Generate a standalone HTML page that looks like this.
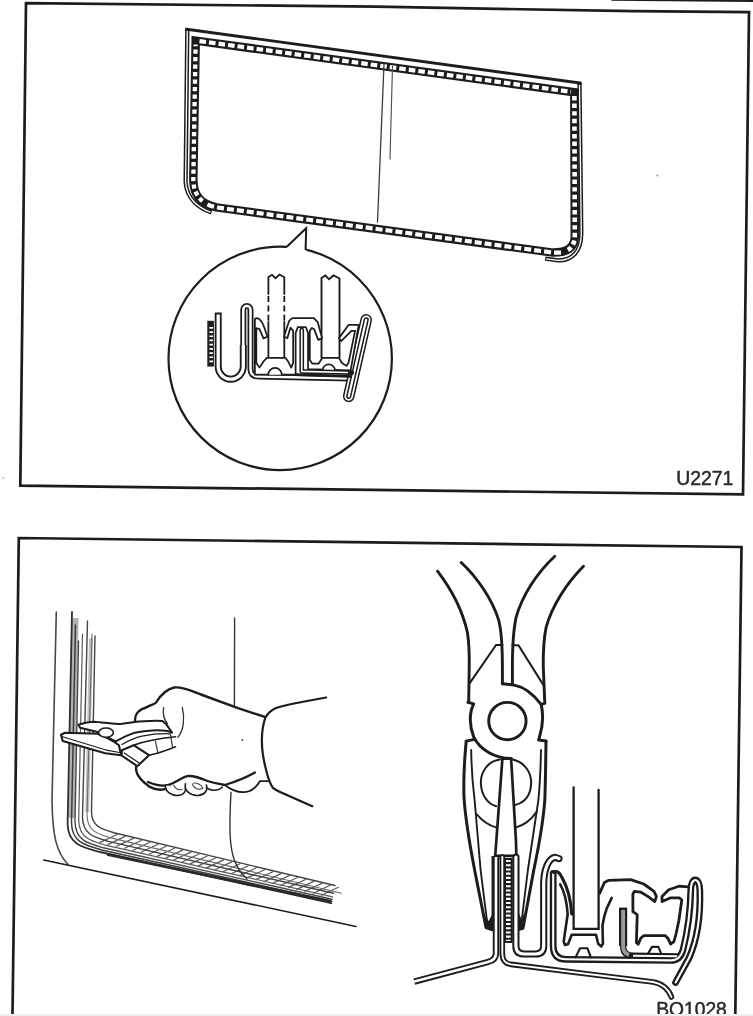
<!DOCTYPE html>
<html lang="en">
<head>
<meta charset="utf-8">
<title>U2271 / BO1028</title>
<style>
html,body{margin:0;padding:0;background:#fff;}
body{width:753px;height:1016px;overflow:hidden;position:relative;font-family:"Liberation Sans",sans-serif;}
svg{position:absolute;left:0;top:0;display:block;}
.k{stroke-linecap:round;stroke-linejoin:round;}
.w{stroke:#fff;fill:none;stroke-linecap:round;stroke-linejoin:round;}
.lbl{font-family:"Liberation Sans",sans-serif;font-size:20px;fill:#2a2a2a;stroke:#2a2a2a;stroke-width:0.5px;}
</style>
</head>
<body>
<svg width="753" height="1016" viewBox="0 0 753 1016">
<defs>
<filter id="soft" x="-2%" y="-2%" width="104%" height="104%"><feGaussianBlur stdDeviation="0.55"/></filter>
</defs>
<rect x="0" y="0" width="753" height="1016" fill="#fff"/>
<g filter="url(#soft)" fill="none" stroke="#1c1c1c">
<!-- ===== stray line at very top ===== -->
<path class="k" stroke-width="2" d="M612,-0.3 L753,0.9"/>

<circle cx="657.4" cy="175.5" r="0.9" fill="#8a8a8a" stroke="none"/>
<circle cx="3.2" cy="478" r="1.3" fill="#cfcfcf" stroke="none"/>
<!-- ===== PANEL 1 border ===== -->
<path class="k" stroke-width="2.7" style="stroke-linejoin:miter" d="M26,3.2 L376,6.7 L633,11.2 L749,12.2 L743,494.3 L20.3,485.7 Z"/>

<!-- ===== PANEL 2 border ===== -->
<path class="k" stroke-width="2.7" style="stroke-linejoin:miter;stroke-linecap:butt" d="M12.5,1014 L18.8,538 L741.5,547 L735.3,1014"/>

<!-- ===== window frame (panel 1) ===== -->
<g id="window">
<path class="k" stroke-width="4.3" style="stroke-linecap:butt;stroke-linejoin:miter" d="M211.5,212.4 C198,208 186.5,198 185.6,182 L187.3,29.6 M579.5,83.4 L581.3,232 C581.6,252 572,260.6 558,260.4 L545.2,258.7"/>
<path class="w" stroke-width="1.3" style="stroke-linecap:butt;stroke-linejoin:miter" d="M210.5,212.1 C198,208 186.5,198 185.6,182 L187.3,31 M579.5,85 L581.3,232 C581.6,252 572,260.6 558,260.4 L546.2,258.8"/>
<path class="k" stroke-width="2.9" style="stroke-linecap:square" d="M186.6,29.2 L580.2,83"/>
<path class="k" stroke-width="8.5" style="stroke-linejoin:miter" d="M195.7,40.6 L574.3,92.3 L574.8,236 C574.8,247 568,252.6 553,252.6 L216.4,207.4 C200,203.6 193.5,195 193.3,180 Z"/>
<path class="w" stroke-width="4.2" stroke-dasharray="6.6 3" style="stroke-linecap:butt" d="M199.5,41.1 L571,91.8"/>
<path class="w" stroke-width="4.6" stroke-dasharray="4.4 3.2" style="stroke-linecap:butt" d="M574.4,96 L574.8,236 C574.8,244 571,249 566,251"/>
<path class="w" stroke-width="4.2" stroke-dasharray="7 3" style="stroke-linecap:butt" d="M561,252.6 L553,252.6 L216.4,207.4 C212,206.4 208,205 205,203"/>
<path class="w" stroke-width="4.3" stroke-dasharray="4.2 3.3" style="stroke-linecap:butt" d="M202.5,201 C196.5,196 193.4,189 193.3,180 L195.6,44.5"/>
<path class="k" stroke-width="1.3" stroke="#3c3c3c" d="M384,64 L377.5,222"/>
<path class="k" stroke-width="1.1" stroke="#4a4a4a" d="M392.5,66 L390,159"/>
</g>

<!-- ===== callout circle ===== -->
<g id="callout">
<circle class="k" stroke-width="2.2" cx="280.2" cy="358.4" r="111.7" fill="#fff"/>
<path d="M285,252 L287.5,246 L306.2,228.2 L305.6,249 L308,254 Z" fill="#fff" stroke="none"/>
<path class="k" stroke-width="2" d="M287.3,246.2 L306.2,228.2 L305.6,249.3" style="stroke-linejoin:miter"/>
</g>

<!-- ===== cross-section detail inside circle ===== -->
<g id="detail1">
<!-- hatched block at left -->
<rect x="207.3" y="320.8" width="6.6" height="45.8" fill="#1c1c1c" stroke="none"/>
<path class="w" stroke-width="3.6" stroke-dasharray="1.7 2.5" style="stroke-linecap:butt" d="M211.2,327 L211.2,363"/>
<!-- body flange strip: U, hairpin, base -->
<path class="k" stroke-width="7" style="stroke-linecap:butt" d="M218.2,312.5 L218.2,366.6 A12.55,12.55 0 0 0 243.3,366.6 L243.3,345"/>
<path class="k" stroke-width="6" d="M243.3,348 L243.3,309.6 A3.6,3.6 0 0 1 250.5,309.6 L250.5,369 Q250.5,376.6 259,376.6 L350,378.4"/>
<path class="w" stroke-width="3.3" style="stroke-linecap:butt" d="M218.2,314.4 L218.2,366.6 A12.55,12.55 0 0 0 243.3,366.6 L243.3,345"/>
<path class="w" stroke-width="2.5" d="M243.3,348 L243.3,309.6 A3.6,3.6 0 0 1 250.5,309.6 L250.5,369 Q250.5,376.6 259,376.6 L350,378.4"/>
<!-- diagonal outer strips (folded hem: four lines) -->
<path class="k" stroke-width="11.6" d="M366.2,319.8 L348.7,396.4"/>
<path class="w" stroke-width="8.6" d="M366.2,319.8 L348.7,396.4"/>
<path class="k" stroke-width="5.2" d="M366.2,319.8 L348.7,396.4"/>
<path class="w" stroke-width="2.2" d="M366.2,319.8 L348.7,396.4"/>
<path class="k" stroke-width="2.8" d="M296,374.6 L350,376.4"/>
<!-- glass 1 (dashed) -->
<path class="k" stroke-width="1.8" style="stroke-linejoin:miter" d="M268.4,294 L268.4,277 L272,274.8 L275.5,278.2 L279.5,274.5 L284.3,277.2 L284.3,294"/>
<path class="k" stroke-width="1.8" stroke-dasharray="6 3.4" style="stroke-linecap:butt" d="M268.4,296 L268.4,322 M284.3,296 L284.3,322"/>
<path class="k" stroke-width="1.8" d="M268.4,322 L268.4,357.4 M284.3,322 L284.3,357.4"/>
<!-- glass 2 -->
<path class="k" stroke-width="1.9" style="stroke-linejoin:miter" d="M321.5,357.4 L321.5,278 L325.5,275.5 L329,279.3 L333.5,275.5 L339.5,278.5 L339.5,357.4"/>
<!-- rubber channel profile (drawn in zoom-view coordinates) -->
<g transform="translate(235,301.6) scale(0.14608)">
<path class="k" stroke-width="12" fill="#fff" d="M136,490 L136,125 Q136,113 148,113 L165,118 Q190,140 200,175 L222,240 L195,252 L168,188 L146,182 L146,420 L168,452 L195,410 L218,385 L345,385 L365,412 L385,452 L398,420 L398,200 L380,178 L358,250 L336,240 L350,195 L372,130 L392,113 L540,113 L566,140 L596,250 L570,262 L542,190 L526,180 L512,200 L512,400 L530,425 L572,425 L598,385 L712,385 L732,420 L762,440 L777,420 L822,200 L797,200 L727,270 L712,250 L777,160 L847,160 L792,470 L500,462 L500,215 L485,175 L430,175 L415,215 L415,500 L136,500 Z"/>
<!-- bumps -->
<path class="k" stroke-width="11" fill="#fff" d="M228,500 A46,46 0 0 1 320,500"/>
<path class="k" stroke-width="11" fill="#fff" d="M600,470 A42,40 0 0 1 684,470"/>
<!-- L-shaped metal strip between channels -->
<path class="k" stroke-width="32" d="M457,195 L457,478 L800,486"/>
<path class="w" stroke-width="11" d="M457,195 L457,478 L770,485"/>
</g>
</g>

<!--P2LEFT_BEGIN-->
<!-- ===== panel 2, left: window corner, hand with pliers ===== -->
<g id="p2left">
<path class="k" stroke-width="1.6" stroke="#484848" d="M56.3,612 L52,800 C52.5,835 56,852 68,864.5"/>
<path class="k" stroke-width="1.5" d="M43.7,860 L356,926.5"/>
<path class="k" stroke-width="6.5" stroke="#b2b2b2" style="stroke-linecap:butt" d="M75.3,618 L71.6,818"/>
<path class="k" stroke-width="4" stroke="#c2c2c2" style="stroke-linecap:butt" d="M91,638 L87.2,812"/>
<path class="k" stroke-width="1.2" stroke="#5a5a5a" d="M100.0,842.4 L117.0,834.5 M108.2,844.4 L125.2,836.4 M116.4,846.3 L133.4,838.4 M124.6,848.3 L141.6,840.3 M132.8,850.2 L149.8,842.3 M141.0,852.2 L158.0,844.3 M149.2,854.2 L166.2,846.2 M157.4,856.1 L174.4,848.2 M165.6,858.1 L182.6,850.1 M173.8,860.0 L190.8,852.1 M182.0,862.0 L199.0,854.0 M190.2,863.9 L207.2,856.0 M198.4,865.9 L215.4,858.0 M206.6,867.9 L223.6,859.9 M214.8,869.8 L231.8,861.9 M223.0,871.8 L240.0,863.8 M231.2,873.7 L248.2,865.8 M239.4,875.7 L256.4,867.7 M247.6,877.6 L264.6,869.7 M255.8,879.6 L272.8,871.7 M264.0,881.6 L281.0,873.6 M272.2,883.5 L289.2,875.6 M280.4,885.5 L297.4,877.5 M288.6,887.4 L305.6,879.5 M296.8,889.4 L313.8,881.4 M305.0,891.3 L322.0,883.4 M313.2,893.3 L330.2,885.3 M321.4,895.2 L338.4,887.3"/>
<path class="k" stroke-width="1.8" stroke="#2e2e2e" d="M72,612 L67.6,824.0 C67.9,844.2 82.2,847.3 100.0,852.0 L331.3,903.2"/>
<path class="k" stroke-width="1.5" stroke="#3c3c3c" d="M75.5,625 L71.5,822.7 C71.8,842.3 85.1,845.4 101.7,849.9 L331.7,901.3"/>
<path class="k" stroke-width="1.4" stroke="#4a4a4a" d="M78.5,641 L75,821.4 C75.3,840.4 87.7,843.5 103.3,847.8 L332.1,899.3"/>
<path class="k" stroke-width="1.2" stroke="#5a5a5a" d="M82.5,634 L78.7,819.7 C79.0,838.0 90.7,841.0 105.4,845.2 L332.6,896.8"/>
<path class="k" stroke-width="1.4" stroke="#444" d="M87.5,621 L82.5,817.3 C82.8,834.6 94.2,837.3 108.4,841.4 L333.4,893.3"/>
<path class="k" stroke-width="1.1" stroke="#6a6a6a" d="M92,634 L87,815.1 C87.3,831.6 97.8,834.0 111.1,837.9 L341.5,893.2"/>
<path class="k" stroke-width="1.4" stroke="#444" d="M95,636 L91.5,812.0 C91.8,827.1 102.1,829.1 115.0,833.0 L335.0,885.5"/>
<path class="k" stroke-width="2.8" stroke="#2a2a2a" d="M108,854.6 L330,901.2"/>
<path class="k" stroke-width="1.4" stroke="#333" d="M234.6,618 L234.4,707"/>
<path class="k" stroke-width="1.4" stroke="#333" d="M231,792.5 C230,810 229.5,825 230.3,838 C231.5,855 235,868 247,879"/>
<path d="M 136.1,723.7 C 133.6,716.2 137.4,710 146.1,707.5 C 149.9,705 153.6,705 156.1,702.5 C 159.9,696.2 165.4,689.5 174.1,687.5 C 182.3,686.2 191.3,691 202.3,695 L 238,708.2 L 264.9,716.9 C 260.4,732.4 261.9,752.4 266.1,769.9 L 267.4,781.2 L 259.9,781.2 C 256.1,787.5 252.4,791.2 246.1,791.9 C 239.9,792.9 233.6,791.9 224.9,785 C 217.4,783.2 212.4,782 207.4,781.2 C 199.9,778 193.7,775 187.5,776.2 C 180,778 172.5,785 165,785.5 C 157.5,785.5 152.5,783.7 150,782.5 L 149.9,786.9 C 141.1,779.9 136.1,772.4 136.1,766.1 Z" fill="#fff" stroke="none"/>
<path class="k" stroke-width="2.4" d="M 135.6,723.7 C 133.6,716.2 137.4,710 146.1,707.5 C 149.9,705 153.6,705 156.1,702.5 C 159.9,696.2 165.4,689.5 174.1,687.5 C 182.3,686.2 191.3,691 202.3,695 L 238,708.2 L 264.9,716.9"/>
<path class="k" stroke-width="2.2" d="M 326.1,697.5 C 304.8,701.2 284.9,705 276.1,708 C 271.1,710.4 267.4,713.7 265.4,717.4 C 260.4,732.4 261.4,752.4 266.1,769.9 C 267.9,777.4 269.9,783.6 272.9,787.9 C 276.1,790.4 280.3,792.4 286.8,794.9 L 312.3,806.2"/>
<path class="k" stroke-width="2.4" d="M 136.1,766.9 C 135.4,772.9 140.4,780.4 149.9,786.9 C 157.4,791.1 165.4,790.3 170.3,786.4"/>
<path class="k" stroke-width="2.3" d="M 148,782 C 152.5,784 157.5,786 165,785.5 C 172.5,785 180,778 187.5,776.2 C 193.7,775 199.9,778 207.4,781 C 213.7,783 218.7,784 224.9,785 C 234.9,782 246.1,777.5 254.9,772.5"/>
<path class="k" stroke-width="1.7" d="M 224.9,785 C 233.6,791.9 239.9,792.9 246.1,791.9 C 252.4,791.2 256.1,787.5 259.9,781.2 L 267.9,781.2"/>
<path class="k" stroke-width="1.6" fill="#fff" d="M 165.5,785.5 C 165,791.2 171.2,796.2 178.7,795.4 C 183.7,794.9 186.2,791.2 185.5,787.5"/>
<path class="k" stroke-width="1.6" fill="#fff" d="M 185.5,783.7 C 183.7,790 190,796.2 198.7,795.4 C 205.4,794.4 207.9,790 206.4,785"/>
<path class="k" stroke-width="1.5" fill="#fff" d="M 206.4,787.5 C 209.9,791.2 218.7,791.2 222.4,787"/>
<path class="k" stroke-width="1.1" stroke="#444" d="M 173.7,785 C 175,788.7 178.7,790.4 182,789.5 M 192.4,783.7 C 192.9,787.5 198.7,791.2 202.9,788 C 201.2,785 197.4,783 193.7,783"/>
<path class="k" stroke-width="1.3" stroke="#333" d="M 163.6,707.5 C 162.4,714.9 164.4,719.9 167.4,723.7 M 182.3,707.5 C 184.8,717.4 184.1,729.9 177.8,737.4"/>
<circle cx="242.4" cy="740" r="1" fill="#444" stroke="none"/>
<path class="k" stroke-width="2" fill="#fff" d="M 78.4,724.7 C 83.4,723.1 89.3,721.7 94.3,721.7 C 103.5,722.1 112.7,724.7 121.9,723.7 C 133.6,721.7 148.7,720.4 162.1,720.9 L 165.8,723.7 L 172.1,732.6 C 162.1,728.4 148.7,730.1 133.6,733.1 C 127,735.1 121.1,738.5 115.6,741.5 L 96.8,731.8 L 80.1,727.8 Z"/>
<path class="k" stroke-width="1.3" d="M 121.9,744.5 C 128.6,740.5 135.3,737.6 142,736.1 C 152.1,734.1 162.1,733.4 170.8,733.8"/>
<path class="k" stroke-width="2.1" fill="#fff" d="M 61,734.8 L 65,732.8 L 97.7,733.8 C 105.2,736.8 113.6,741 118.9,745.2 L 121.1,755.2 L 105.2,753.2 L 62.7,741.1 Z"/>
<path class="k" stroke-width="1.2" d="M 61.7,736.5 L 105.2,749.8 L 119.4,752.5"/>
<ellipse class="k" stroke-width="1.6" fill="#fff" cx="106" cy="732.6" rx="7.4" ry="4.6"/>
<path class="k" stroke-width="2.1" fill="#fff" d="M 121.9,750.2 L 133.6,745.2 L 149,755.2 L 137.3,766.2 L 121.6,755.5 Z"/>
<path class="k" stroke-width="1.2" d="M 124.3,752.9 L 139.5,763.2"/>
<path class="k" stroke-width="1.6" d="M 133.6,745.2 C 142,742.1 155.4,738.8 175.5,736.8 M 149,755.2 C 155.4,753.9 165.4,751 175.5,746.8"/>
<path class="k" stroke-width="1.2" stroke="#333" d="M 155.4,741 L 158.1,753.9 M 170.5,734.8 L 172.5,747.2"/>
</g>
<!--P2LEFT_END-->
<!--P2RIGHT_BEGIN-->
<!-- ===== panel 2, right: pliers close-up and flange cross-section ===== -->
<g id="p2right">
<path class="k" stroke-width="2.9" d="M 437.5,571.2 C 449.9,587.4 462.4,609.9 467.4,632.4 C 469.4,644.9 469.4,657.4 469.2,667.1 L 468.7,702.4"/>
<path class="k" stroke-width="2.9" d="M 461.2,562.5 C 477.4,577.5 492.4,599.9 498.6,619.9 C 501.9,632.4 502.4,644.9 502.4,667.1 L 502.4,683.7"/>
<path class="k" stroke-width="2.9" d="M 554.8,556.2 C 537.3,572.5 522.3,594.9 516.1,617.4 C 512.9,632.4 512.4,647.4 512.4,667.1 L 512.4,682.9"/>
<path class="k" stroke-width="2.9" d="M 583.5,566.2 C 567.3,582.4 552.3,604.9 546.1,627.4 C 543.1,642.4 543.1,654.9 543.3,667.1 L 544.8,703.4 L 541.1,704.4"/>
<path class="k" stroke-width="2" style="stroke-linejoin:miter" d="M 469.9,682.9 L 496.1,645 L 502.4,645 M 512.4,645 L 518.6,645.5 L 543.6,685.4"/>
<path class="k" stroke-width="3" d="M 502.4,683.7 L 513.6,684.9 C 523.6,686.9 533.6,694.4 541.1,704.4 C 543.3,712.4 543.1,724.9 540.1,734.4 L 538.6,740.1 L 546.1,741.1"/>
<path class="k" stroke-width="3" d="M 467.9,702.4 L 473.7,703.9 C 469.4,712.4 468.9,724.9 473.7,736.9 C 479.9,749.9 494.9,758.4 511.1,758.6"/>
<path class="k" stroke-width="2.9" d="M 474.4,739.4 L 466.2,741.1"/>
<circle class="k" stroke-width="2.9" cx="507.4" cy="721.1" r="18.7"/>
<path class="k" stroke-width="3" d="M466.2,741.2 C464.4,760 463.4,780 464,797 C465,815 470,846 475,872 L486,927.5 L492.6,929.8"/>
<path class="k" stroke-width="1.9" d="M471.2,750 C471.4,768 472.8,786 474.6,800 L480.6,870 L487,921"/>
<path class="k" stroke-width="3" d="M546,741.2 C545.7,765 545.4,785 544.8,800 C543,825 538,850 533.8,870 L523,928.2 L517.4,929.8"/>
<path class="k" stroke-width="1.9" d="M541,750 C540.6,768 539.8,786 538.4,800 L527.9,870 L522,918"/>
<path d="M483.2,914 L486,928.4 L493.6,930.6 L493.6,912 L488.6,921 Z" fill="#1c1c1c" stroke="none"/>
<path d="M526,910 L523,929 L516.6,930.8 L516.6,908 L521.4,919 Z" fill="#1c1c1c" stroke="none"/>
<path class="k" stroke-width="2.7" style="stroke-linecap:butt" d="M492.9,856 L492.9,930 M517.4,856 L517.4,930"/>
<path class="k" stroke-width="2.7" style="stroke-linejoin:miter" d="M 496.4,839.9 L 502.4,758.7 L 511.1,758.7 L 515.9,839.9 L516.4,855.8 L495.2,855.8 L496.4,840"/>
<path class="k" stroke-width="2" d="M 499.9,759.5 C 487.4,761.2 480.4,772.4 480.9,783.7 C 481.4,794.9 487.4,803.7 496.1,806.2 M 512.9,759.5 C 524.8,762.5 531.6,772.4 531.1,783.7 C 530.6,794.9 524.8,802.4 515.4,804.9"/>
<path class="k" stroke-width="1.9" d="M 476.9,814.4 C 482.4,821.1 488.6,825.4 496.1,827.4 M 516.1,827.4 C 524.8,824.9 531.1,819.9 536.6,811.9"/>
<path class="k" stroke-width="8.6" style="stroke-linecap:butt" d="M508.3,858 L508.3,943"/>
<path class="w" stroke-width="4.6" stroke-dasharray="2.1 2.1" style="stroke-linecap:butt" d="M508.3,860 L508.3,941"/>
<path class="k" stroke-width="6.4" style="stroke-linecap:butt" d="M496,857 L496,953 C496,958.5 493,960.8 488,962 L414.3,981.6"/>
<path class="k" stroke-width="5.6" d="M502.3,857 L502.3,953 C502.3,960.5 505,963.5 511,964.4 L588,974 L653,982 C661,983.4 668,988 671.5,997"/>
<path class="k" stroke-width="7.2" d="M515.9,857 L515.9,946 Q515.9,954 524,954 L535.6,954 Q543.7,954 543.7,946 L543.7,884 C543.9,868 549,858.5 555,857.3 L559,858.6"/>
<path class="w" stroke-width="2.6" style="stroke-linecap:butt" d="M496,857 L496,953 C496,958.5 493,960.8 488,962 L414.3,981.6"/>
<path class="w" stroke-width="1.9" d="M502.3,857 L502.3,953 C502.3,960.5 505,963.5 511,964.4 L588,974 L653,982 C661,983.4 668,988 671.5,997"/>
<path class="w" stroke-width="3.2" d="M515.9,857 L515.9,946 Q515.9,954 524,954 L535.6,954 Q543.7,954 543.7,946 L543.7,884 C543.9,868 549,858.5 555,857.3 L559,858.6"/>
<path class="k" stroke-width="6.8" d="M553.2,873.5 L553.2,946 Q553.2,959.3 566,959.3 L671,960.4 Q680,960.4 683,950 C688,930 690.5,906 690.8,890 C691,876.6 699.6,876.6 699.8,890 C700.6,915 697,940 689,958 L675.6,982.4"/>
<path class="k" stroke-width="8.2" style="stroke-linecap:butt" d="M623.1,907.6 L623.1,946"/>
<path class="k" stroke-width="6.2" style="stroke-linecap:butt" d="M623.1,909 L623.1,946 Q623.1,955.7 633,955.7 L678,956.3"/>
<path class="w" stroke-width="2.1" d="M553.2,873.5 L553.2,946 Q553.2,959.3 566,959.3 L671,960.4 Q680,960.4 683,950 C688,930 690.5,906 690.8,890 C691,876.6 699.6,876.6 699.8,890 C700.6,915 697,940 689,958 L675.6,982.4"/>
<path class="w" stroke-width="1.9" style="stroke-linecap:butt" d="M633,955.7 L677,956.3"/>
<path class="k" stroke="#9a9a9a" stroke-width="3.9" style="stroke-linecap:butt" d="M623.1,910 L623.1,946 Q623.1,953 629,955"/>
<path class="k" stroke-width="3.1" d="M553.6,872.4 C556.5,870.4 559.6,872 562,877.6 C566.4,885 570.6,897 571.7,914"/>
<path class="k" stroke-width="2.6" d="M560.2,884.4 C563.6,890 566.6,900 567.7,914 L563.7,941.4 L564.9,944.9 L568,944.3 L571.7,934.8 L596,934.8 L598.2,943.8 L601.3,946.4 L602.9,943.8 L602.5,925.6 L604.4,916 L606.6,908.8 L611.7,897.9"/>
<path class="k" stroke-width="2.3" style="stroke-linejoin:miter" d="M573.6,787.5 L573.6,928.8 L598.6,928.8 L598.6,790"/>
<path class="k" stroke-width="2.8" d="M599.6,893.4 L604.4,882.5 L608.8,880.3 L630.7,879.6 L643.8,884 L654,891.3 L656.4,896.4 L654.8,901.6 L648.2,896.6 L641,892.2 L634.3,891.4 L632.9,894.2 L632.9,911.7 L637.2,914.7 L636.4,942.6 L638.2,944.2 L641,937.8 L644,935.7 L665.3,935.7 L668,938.4 L670.6,944 L673.9,941.6 L676,934 L678.9,920.5 L681.8,900 L679.6,897.9 L670.1,897.9 L662.1,901.6 L662,896.4 L668.7,889.8 L678.9,886.2 L688,886.9"/>
<path class="k" stroke-width="2.1" d="M575.6,957.4 L580,948.3 L587.5,948.3 L590.9,957.4"/>
<path class="k" stroke-width="2.1" d="M648.1,953.6 L652,946.9 L658.4,946.9 L661.2,953.6"/>
</g>
<!--P2RIGHT_END-->
</g>
<!-- labels -->
<text class="lbl" x="676.2" y="484.8" textLength="57.2" lengthAdjust="spacingAndGlyphs" filter="url(#soft)">U2271</text>
<text class="lbl" x="656.2" y="1016.2" textLength="70.6" lengthAdjust="spacingAndGlyphs" filter="url(#soft)">BO1028</text>
<rect x="0" y="1014" width="753" height="2" fill="#eeeeee"/>
</svg>
</body>
</html>
